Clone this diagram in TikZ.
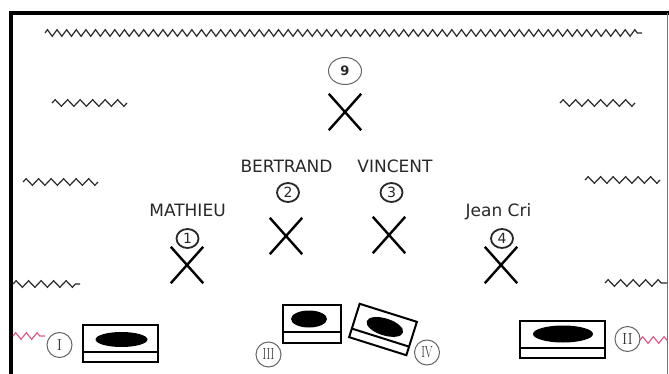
\documentclass[tikz,border=0pt]{standalone}
\usepackage{fontspec}
\usepackage{graphicx}
\newfontfamily\labfont{DejaVu Sans}
\usetikzlibrary{decorations.pathmorphing,shapes.misc,shapes.geometric}
\definecolor{ink}{RGB}{40,40,40}
\definecolor{pinkwave}{RGB}{215,95,135}
\begin{document}
\begin{tikzpicture}[x=1pt,y=-1pt,
  wavebig/.style={decorate,decoration={zigzag,segment length=9.63pt,amplitude=3.3pt},line width=1.2pt,ink},
  wavesmall/.style={decorate,decoration={zigzag,segment length=12.5pt,amplitude=3.3pt},line width=1.2pt,ink},
  wavepink/.style={decorate,decoration={zigzag,segment length=10.7pt,amplitude=3.3pt},line width=1.2pt,pinkwave},
  crossmark/.style={cross out,draw=black,line width=2.4pt,minimum width=30pt,minimum height=34pt,inner sep=0pt},
  namelabel/.style={font=\labfont\fontsize{17}{17}\selectfont,text=ink,anchor=base,inner sep=0pt},
  numc/.style={ellipse,draw=ink,line width=1.8pt,minimum width=22pt,minimum height=19pt,inner sep=0pt,
    font=\labfont\fontsize{14}{14}\selectfont,text=ink},
  romc/.style={circle,draw=black!60,line width=1pt,minimum size=25pt,inner sep=0pt,
    font=\fontsize{16}{16}\selectfont,text=ink},
  tray/.style={line width=2pt,black},
]
\useasboundingbox (0,0) rectangle (669,374);
\fill[white] (0,0) rectangle (669,374);
% frame
\draw[line width=3.8pt,black] (11,376) -- (11,13) -- (671,13);
\draw[line width=1pt,black!55] (667.5,13) -- (667.5,374);
% waves
\draw[wavebig] (45,33) -- (642,33);
\draw[wavesmall] (52,103) -- (127,103);
\draw[wavesmall] (560,103) -- (635,103);
\draw[wavesmall] (23,182) -- (98,182);
\draw[wavesmall] (585,180) -- (660,180);
\draw[wavesmall] (13,284) -- (80,284);
\draw[wavesmall] (605,283) -- (667,283);
\draw[wavepink] (13,336) -- (45,336);
\draw[wavepink] (640,340) -- (667,340);
% player 9
\node[ellipse,draw=black!60,line width=1pt,minimum width=33pt,minimum height=27pt,inner sep=0pt,
  font=\labfont\bfseries\fontsize{13}{13}\selectfont,text=ink] (c9) at (345,71) {9};
\node[crossmark] (x9) at (345,112) {};
% names
\node[namelabel] (n1) at (187.5,217) {MATHIEU};
\node[namelabel] (n2) at (286.5,173) {BERTRAND};
\node[namelabel] (n3) at (395,173) {VINCENT};
\node[namelabel] (n4) at (498.5,217) {Jean Cri};
% numbers
\node[numc] (c1) at (187.5,238.5) {1};
\node[numc] (c2) at (288,192.5) {2};
\node[numc] (c3) at (391.5,192.5) {3};
\node[numc] (c4) at (502,238.5) {4};
% crosses
\node[crossmark] (x1) at (187,265) {};
\node[crossmark] (x2) at (286,236) {};
\node[crossmark] (x3) at (389,235) {};
\node[crossmark] (x4) at (501,265) {};
% trays
\draw[tray] (83,325) rectangle (158,362);
\draw[tray] (83,352) -- (158,352);
\fill[black] (121.5,339.5) ellipse [x radius=26pt,y radius=7.5pt];
\draw[tray] (283,305) rectangle (341,343);
\draw[tray] (283,332) -- (341,332);
\fill[black] (309,319) ellipse [x radius=18pt,y radius=8.5pt];
\begin{scope}[shift={(383,329.5)},rotate=-17.5]
  \draw[tray] (-30,-17.5) rectangle (30,17.5);
  \draw[tray] (-30,8.5) -- (30,8.5);
  \fill[black] (1,-3) ellipse [x radius=19pt,y radius=8.5pt];
\end{scope}
\draw[tray] (520,321) rectangle (605,358);
\draw[tray] (520,348) -- (605,348);
\fill[black] (563,334) ellipse [x radius=30pt,y radius=8.5pt];
% roman labels
\node[romc] (r1) at (59.5,345) {I};
\node[romc] (r2) at (627.5,339) {II};
\node[romc] (r3) at (268.5,354.5) {\scalebox{0.7}[1]{III}};
\node[romc] (r4) at (427,352.5) {\scalebox{0.7}[1]{IV}};
\end{tikzpicture}
\end{document}
